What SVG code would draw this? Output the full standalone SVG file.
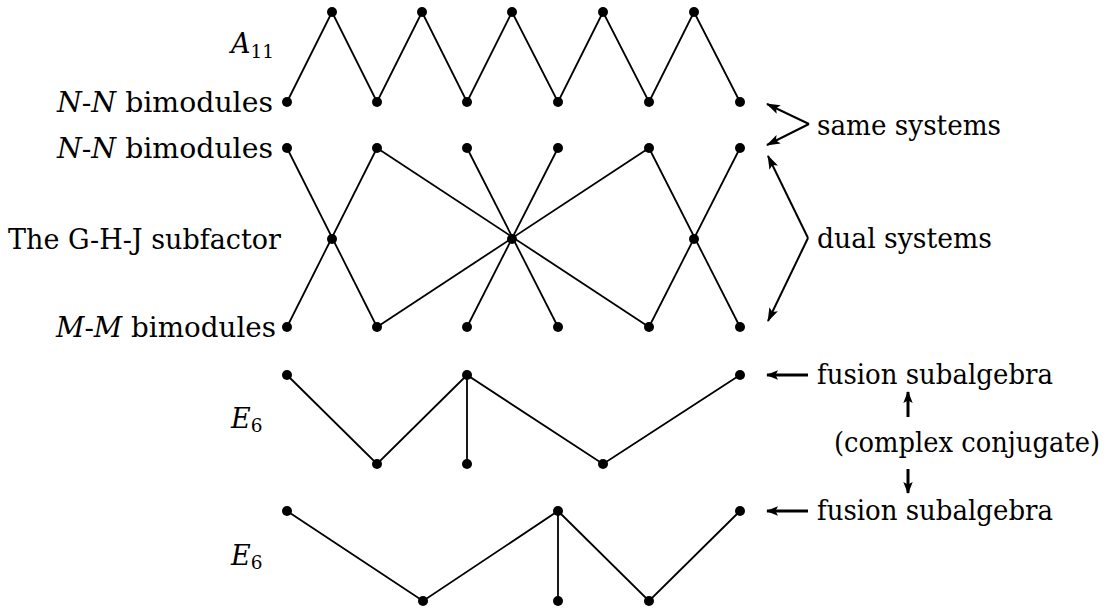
<svg xmlns="http://www.w3.org/2000/svg" width="1116" height="612" viewBox="0 0 1116 612">
<style>
  .e { stroke: #000; stroke-width: 1.8; fill: none; }
  .a { stroke: #000; stroke-width: 2; fill: none; marker-end: url(#ah); }
  .b { stroke: #000; stroke-width: 3; fill: none; marker-end: url(#bh); }
  text { font-family: "DejaVu Serif", "Liberation Serif", serif; font-size: 27px; fill: #000; }
  .i { font-style: italic; }
  .s { font-size: 18.5px; }
</style>
<defs>
  <marker id="ah" viewBox="0 0 14 10" refX="13" refY="5" markerWidth="14" markerHeight="10" markerUnits="userSpaceOnUse" orient="auto">
    <path d="M0,0.3 L14,5 L0,9.7 L3,5 Z" fill="#000"/>
  </marker>
  <marker id="bh" viewBox="0 0 12 10" refX="11" refY="5" markerWidth="12" markerHeight="10" markerUnits="userSpaceOnUse" orient="auto">
    <path d="M0,0.3 L12,5 L0,9.7 L2.5,5 Z" fill="#000"/>
  </marker>
  <circle id="dot" r="5" fill="#000"/>
</defs>
<rect width="1116" height="612" fill="#fff"/>

<!-- edges of all graphs and the annotation arrows -->
<g id="connectors">
  <!-- A11 zigzag -->
  <polyline class="e" points="287,102 332,12 377,102 422,12 467,102 512,12 558,102 603,12 649,102 694,12 740,102"/>
  <!-- G-H-J principal and dual principal graphs -->
  <line class="e" x1="287" y1="148" x2="377" y2="327"/>
  <line class="e" x1="377" y1="148" x2="287" y2="327"/>
  <line class="e" x1="377" y1="148" x2="649" y2="327"/>
  <line class="e" x1="377" y1="327" x2="649" y2="148"/>
  <line class="e" x1="467" y1="148" x2="558" y2="327"/>
  <line class="e" x1="558" y1="148" x2="467" y2="327"/>
  <line class="e" x1="649" y1="148" x2="740" y2="327"/>
  <line class="e" x1="740" y1="148" x2="649" y2="327"/>
  <!-- upper E6 -->
  <polyline class="e" points="287,375 377,464 467,375 603,464 740,375"/>
  <line class="e" x1="467" y1="375" x2="467" y2="464"/>
  <!-- lower E6 -->
  <polyline class="e" points="287,511 423,601 558,511 649,601 740,511"/>
  <line class="e" x1="558" y1="511" x2="558" y2="601"/>
  <!-- annotation arrows -->
  <line class="a" x1="809" y1="124" x2="767" y2="104"/>
  <line class="a" x1="809" y1="124" x2="767" y2="145"/>
  <line class="a" x1="808" y1="238" x2="768" y2="156"/>
  <line class="a" x1="808" y1="238" x2="768" y2="321"/>
  <line class="b" x1="808" y1="375" x2="767" y2="375"/>
  <line class="b" x1="808" y1="511" x2="767" y2="511"/>
  <line class="b" x1="908" y1="417" x2="908" y2="392"/>
  <line class="b" x1="908" y1="469" x2="908" y2="493"/>
</g>

<!-- A11 vertices -->
<g id="A11">
  <use href="#dot" x="287" y="102"/><use href="#dot" x="332" y="12"/><use href="#dot" x="377" y="102"/>
  <use href="#dot" x="422" y="12"/><use href="#dot" x="467" y="102"/><use href="#dot" x="512" y="12"/>
  <use href="#dot" x="558" y="102"/><use href="#dot" x="603" y="12"/><use href="#dot" x="649" y="102"/>
  <use href="#dot" x="694" y="12"/><use href="#dot" x="740" y="102"/>
</g>

<!-- G-H-J vertices -->
<g id="GHJ">
  <use href="#dot" x="287" y="148"/><use href="#dot" x="377" y="148"/><use href="#dot" x="467" y="148"/>
  <use href="#dot" x="558" y="148"/><use href="#dot" x="649" y="148"/><use href="#dot" x="740" y="148"/>
  <use href="#dot" x="332" y="239"/><use href="#dot" x="512" y="239"/><use href="#dot" x="694" y="239"/>
  <use href="#dot" x="287" y="327"/><use href="#dot" x="377" y="327"/><use href="#dot" x="467" y="327"/>
  <use href="#dot" x="558" y="327"/><use href="#dot" x="649" y="327"/><use href="#dot" x="740" y="327"/>
</g>

<!-- upper E6 vertices -->
<g id="E6a">
  <use href="#dot" x="287" y="375"/><use href="#dot" x="467" y="375"/><use href="#dot" x="740" y="375"/>
  <use href="#dot" x="377" y="464"/><use href="#dot" x="467" y="464"/><use href="#dot" x="603" y="464"/>
</g>

<!-- lower E6 vertices -->
<g id="E6b">
  <use href="#dot" x="287" y="511"/><use href="#dot" x="558" y="511"/><use href="#dot" x="740" y="511"/>
  <use href="#dot" x="423" y="601"/><use href="#dot" x="558" y="601"/><use href="#dot" x="649" y="601"/>
</g>

<!-- left labels -->
<g id="labels-left">
  <text x="231" y="53"><tspan class="i">A</tspan><tspan class="s" dy="5">11</tspan></text>
  <text x="57" y="112" textLength="216" lengthAdjust="spacingAndGlyphs"><tspan class="i">N</tspan>-<tspan class="i">N</tspan> bimodules</text>
  <text x="57" y="158" textLength="216" lengthAdjust="spacingAndGlyphs"><tspan class="i">N</tspan>-<tspan class="i">N</tspan> bimodules</text>
  <text x="8" y="249" textLength="273" lengthAdjust="spacingAndGlyphs">The G-H-J subfactor</text>
  <text x="56" y="337" textLength="220" lengthAdjust="spacingAndGlyphs"><tspan class="i">M</tspan>-<tspan class="i">M</tspan> bimodules</text>
  <text x="231" y="428"><tspan class="i">E</tspan><tspan class="s" dy="4">6</tspan></text>
  <text x="231" y="565"><tspan class="i">E</tspan><tspan class="s" dy="4">6</tspan></text>
</g>

<!-- right labels -->
<g id="labels-right">
  <text x="817" y="135" textLength="184" lengthAdjust="spacingAndGlyphs">same systems</text>
  <text x="817" y="248" textLength="175" lengthAdjust="spacingAndGlyphs">dual systems</text>
  <text x="817" y="384" textLength="236" lengthAdjust="spacingAndGlyphs">fusion subalgebra</text>
  <text x="834" y="452" textLength="266" lengthAdjust="spacingAndGlyphs">(complex conjugate)</text>
  <text x="817" y="520" textLength="236" lengthAdjust="spacingAndGlyphs">fusion subalgebra</text>
</g>
</svg>
